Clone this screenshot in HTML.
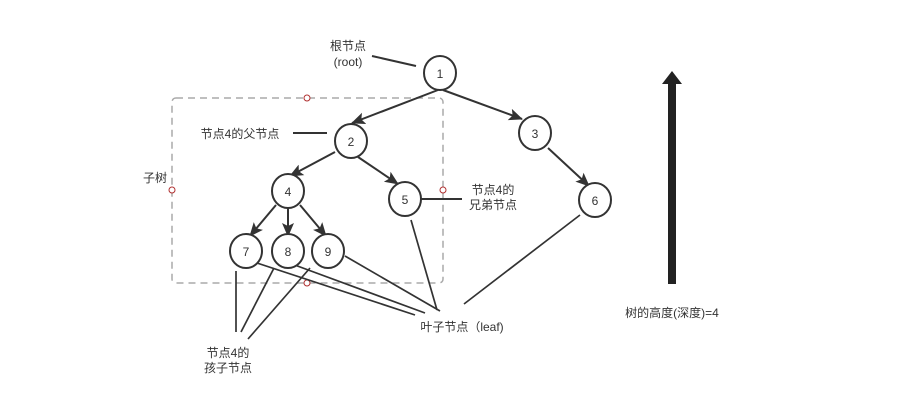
<!DOCTYPE html>
<html><head><meta charset="utf-8"><style>
html,body{margin:0;padding:0;background:#fff;}
svg text{font-family:"Liberation Sans","Noto Sans CJK SC",sans-serif;font-size:12px;fill:#333;}
</style></head><body>
<svg width="920" height="413" viewBox="0 0 920 413" xmlns="http://www.w3.org/2000/svg">
<defs><marker id="a" markerWidth="14" markerHeight="14" refX="13" refY="7" orient="auto" markerUnits="userSpaceOnUse"><path d="M0,1 L14,7 L0,13 L3,7 z" fill="#333"/></marker></defs>
<rect x="172" y="98" width="271" height="185" rx="4" fill="none" stroke="#aaa" stroke-width="1.5" stroke-dasharray="7,5"/>
<g fill="#fff" stroke="#b03030" stroke-width="1"><circle cx="307" cy="98" r="3"/><circle cx="172" cy="190" r="3"/><circle cx="443" cy="190" r="3"/><circle cx="307" cy="283" r="3"/></g>
<g stroke="#333" stroke-width="2" fill="none">
<line x1="372" y1="56" x2="416" y2="66"/>
<line x1="293" y1="133" x2="327" y2="133"/>
<line x1="421" y1="199" x2="462" y2="199"/>
<line x1="438" y1="90" x2="352" y2="123" marker-end="url(#a)"/>
<line x1="443" y1="90" x2="522" y2="119" marker-end="url(#a)"/>
<line x1="335" y1="152" x2="290" y2="176" marker-end="url(#a)"/>
<line x1="358" y1="157" x2="398" y2="184" marker-end="url(#a)"/>
<line x1="276" y1="205" x2="250" y2="236" marker-end="url(#a)"/>
<line x1="288" y1="208" x2="288" y2="236" marker-end="url(#a)"/>
<line x1="300" y1="205" x2="326" y2="236" marker-end="url(#a)"/>
<line x1="548" y1="148" x2="589" y2="186" marker-end="url(#a)"/>
<g stroke-width="1.7">
<line x1="254" y1="262" x2="415" y2="315"/>
<line x1="292" y1="264" x2="425" y2="313"/>
<line x1="345" y1="256" x2="440" y2="311"/>
<line x1="411" y1="220" x2="437" y2="310"/>
<line x1="580" y1="215" x2="464" y2="304"/>
<line x1="236" y1="271" x2="236" y2="332"/>
<line x1="274" y1="268" x2="241" y2="332"/>
<line x1="310" y1="268" x2="248" y2="339"/>
</g>
<g fill="#fff">
<ellipse cx="440" cy="73" rx="16" ry="17"/><ellipse cx="351" cy="141" rx="16" ry="17"/>
<ellipse cx="535" cy="133" rx="16" ry="17"/><ellipse cx="288" cy="191" rx="16" ry="17"/>
<ellipse cx="405" cy="199" rx="16" ry="17"/><ellipse cx="595" cy="200" rx="16" ry="17"/>
<ellipse cx="246" cy="251" rx="16" ry="17"/><ellipse cx="288" cy="251" rx="16" ry="17"/>
<ellipse cx="328" cy="251" rx="16" ry="17"/>
</g></g>
<g text-anchor="middle">
<text x="440" y="78">1</text><text x="351" y="146">2</text><text x="535" y="138">3</text>
<text x="288" y="196">4</text><text x="405" y="204">5</text><text x="595" y="205">6</text>
<text x="246" y="256">7</text><text x="288" y="256">8</text><text x="328" y="256">9</text>
<text x="348" y="50">根节点</text><text x="348" y="66">(root)</text>
<text x="240" y="138">节点4的父节点</text>
<text x="155" y="182">子树</text>
<text x="493" y="194">节点4的</text><text x="493" y="209">兄弟节点</text>
<text x="462" y="331">叶子节点（leaf)</text>
<text x="228" y="357">节点4的</text><text x="228" y="372">孩子节点</text>
<text x="672" y="317">树的高度(深度)=4</text>
</g>
<rect x="668" y="82" width="8" height="202" fill="#222"/>
<path d="M662,84 L672,71 L682,84 z" fill="#222"/>
</svg>
</body></html>
